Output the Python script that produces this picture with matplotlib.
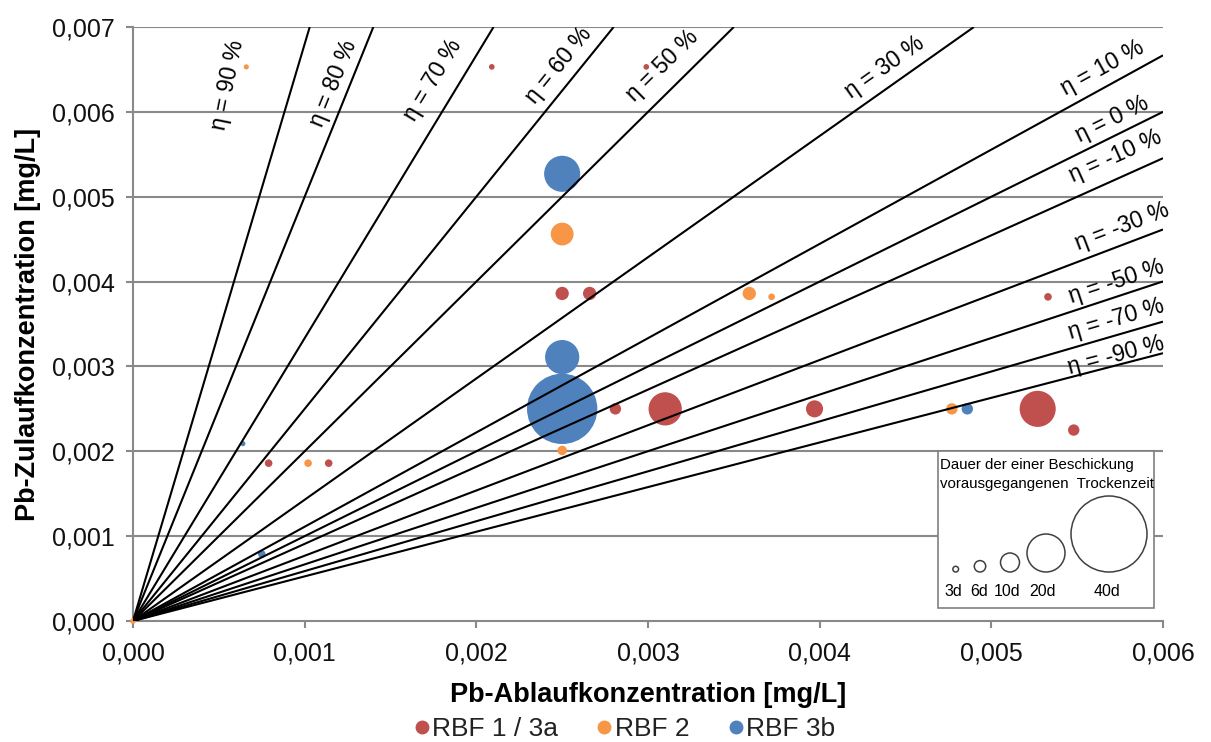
import numpy as np
import matplotlib
matplotlib.use("Agg")
import matplotlib.pyplot as plt
from matplotlib.patches import Rectangle
from matplotlib.lines import Line2D

plt.rcParams['font.family'] = ['Liberation Sans', 'DejaVu Sans']

# --- data -------------------------------------------------------------
# RBF 1 / 3a
rbf1_x = [0.00209, 0.00299, 0.00250, 0.00266, 0.00281, 0.00310, 0.00397,
          0.00527, 0.00548, 0.00533, 0.00079, 0.00114]
rbf1_y = [0.00653, 0.00653, 0.00386, 0.00386, 0.00250, 0.00250, 0.00250,
          0.00250, 0.00225, 0.00382, 0.00186, 0.00186]
rbf1_days = [3, 3, 7, 7, 6, 17.5, 9, 19, 6, 4, 4, 4]

# RBF 2
rbf2_x = [0.00066, 0.00250, 0.00359, 0.00372, 0.00250, 0.00477, 0.00102, 0.0]
rbf2_y = [0.00653, 0.00456, 0.00386, 0.00382, 0.00201, 0.00250, 0.00186, 0.0]
rbf2_days = [2.7, 12, 7, 3.5, 5, 6, 4, 3]

# RBF 3b
rbf3_x = [0.00250, 0.00250, 0.00250, 0.00486, 0.00064, 0.00075]
rbf3_y = [0.00527, 0.00311, 0.00250, 0.00250, 0.00209, 0.00079]
rbf3_days = [19, 18, 37, 6, 2.7, 4]

# efficiency lines (Zulauf / Ablauf ratio of each line)
eta_pct = [90, 80, 70, 60, 50, 30, 10, 0, -10, -30, -50, -70, -90]
line_ratio = [6.8, 5.0, 3.333, 2.5, 2.0, 1.429, 1.111, 1.0, 0.909, 0.769,
              0.667, 0.588, 0.526]
label_x = [0.000553, 0.001165, 0.001748, 0.002480, 0.003082, 0.004381,
           0.005645, 0.005703, 0.005720, 0.005760, 0.005730, 0.005725, 0.005725]
label_y = [0.006317, 0.006340, 0.006375, 0.006552, 0.006540, 0.006529,
           0.006517, 0.005916, 0.005480, 0.004643, 0.003995, 0.003560, 0.003130]

legend_days = [3, 6, 10, 20, 40]
series_names = ['RBF 1 / 3a', 'RBF 2', 'RBF 3b']
colors = ['#C0504D', '#F79646', '#4F81BD']

x_ticks = [0.000, 0.001, 0.002, 0.003, 0.004, 0.005, 0.006]
y_ticks = [0.000, 0.001, 0.002, 0.003, 0.004, 0.005, 0.006, 0.007]

# --- figure -----------------------------------------------------------
W, H = 1211, 742
fig = plt.figure(figsize=(W / 100, H / 100), dpi=100)
ax_l, ax_r, ax_t, ax_b = 133, 1163, 27, 621
ax = fig.add_axes([ax_l / W, (H - ax_b) / H, (ax_r - ax_l) / W, (ax_b - ax_t) / H])
ax.set_xlim(0, 0.006)
ax.set_ylim(0, 0.007)

grid_col = '#898989'
for yv in y_ticks[1:]:
    ax.axhline(yv, color=grid_col, lw=1.5, zorder=1)
for s in ['top', 'right']:
    ax.spines[s].set_visible(False)
for s in ['left', 'bottom']:
    ax.spines[s].set_color(grid_col)
    ax.spines[s].set_linewidth(1.5)
ax.tick_params(axis='both', direction='out', length=5, width=1.5,
               color=grid_col, labelsize=18, labelcolor='#111111')
ax.tick_params(axis='y', pad=8)
ax.tick_params(axis='x', pad=10)
ax.set_xticks(x_ticks)
ax.set_yticks(y_ticks)
fmt = lambda v: f"{v:.3f}".replace('.', ',')
ax.set_xticklabels([fmt(v) for v in x_ticks])
ax.set_yticklabels([fmt(v) for v in y_ticks])

ax.set_xlabel('Pb-Ablaufkonzentration [mg/L]', fontsize=19.5,
              fontweight='bold', labelpad=12)
ax.set_ylabel('Pb-Zulaufkonzentration [mg/L]', fontsize=19.5,
              fontweight='bold', labelpad=8)

# bubble diameter grows linearly with the dry period
PX_PER_DAY = 1.9
def bubble_area(days):
    d_pt = np.asarray(days) * PX_PER_DAY * 72 / 100
    return d_pt ** 2

for xs, ys, ds, c in [(rbf1_x, rbf1_y, rbf1_days, colors[0]),
                      (rbf2_x, rbf2_y, rbf2_days, colors[1]),
                      (rbf3_x, rbf3_y, rbf3_days, colors[2])]:
    ax.scatter(xs, ys, s=bubble_area(ds), c=c, linewidths=0, zorder=3,
               clip_on=False)

# efficiency lines through the origin
for r in line_ratio:
    xe = min(0.006, 0.007 / r)
    ax.plot([0, xe], [0, r * xe], color='black', lw=1.5, zorder=4,
            solid_capstyle='butt')

sx = (ax_r - ax_l) / 0.006
sy = (ax_b - ax_t) / 0.007
for e, lx, ly in zip(eta_pct, label_x, label_y):
    ang = np.degrees(np.arctan(1 / (1 - e / 100) * sy / sx))
    ax.text(lx, ly, f"η = {e} %", rotation=ang, rotation_mode='anchor',
            ha='center', va='center', fontsize=16.5, zorder=5)

# bubble size legend box
def afx(px):
    return (px - ax_l) / (ax_r - ax_l)
def afy(py):
    return (ax_b - py) / (ax_b - ax_t)

box = Rectangle((afx(937.5), afy(608)), afx(1154) - afx(937.5),
                afy(451) - afy(608), transform=ax.transAxes,
                facecolor='white', edgecolor='#7F7F7F', lw=1.2, zorder=6)
ax.add_patch(box)
ax.text(afx(940), afy(465), 'Dauer der einer Beschickung', transform=ax.transAxes,
        fontsize=10.8, ha='left', va='center', zorder=7)
ax.text(afx(940), afy(484), 'vorausgegangenen  Trockenzeit', transform=ax.transAxes,
        fontsize=10.8, ha='left', va='center', zorder=7)
circ_cx = [955.7, 980, 1010, 1046, 1109]
base_y = 572
lab_x = [953, 979, 1007, 1043, 1107]
for d, cx, lx in zip(legend_days, circ_cx, lab_x):
    dia = d * PX_PER_DAY
    ax.scatter([afx(cx)], [afy(base_y - dia / 2)], s=bubble_area(d),
               facecolors='none', edgecolors='#404040', linewidths=1.1,
               transform=ax.transAxes, zorder=7, clip_on=False)
    ax.text(afx(lx), afy(592), f"{d}d", transform=ax.transAxes, fontsize=11.5,
            ha='center', va='center', zorder=7)

# series legend below the axes
handles = [Line2D([], [], marker='o', ls='none', color=c, markersize=9)
           for c in colors]
fig.legend(handles, series_names, loc='center', bbox_to_anchor=(622 / W, 1 - 729 / H),
           ncol=3, frameon=False, fontsize=19, handletextpad=-0.1,
           columnspacing=1.25, handlelength=1.0, labelcolor='#222222')

fig.savefig('out.png', dpi=100)
